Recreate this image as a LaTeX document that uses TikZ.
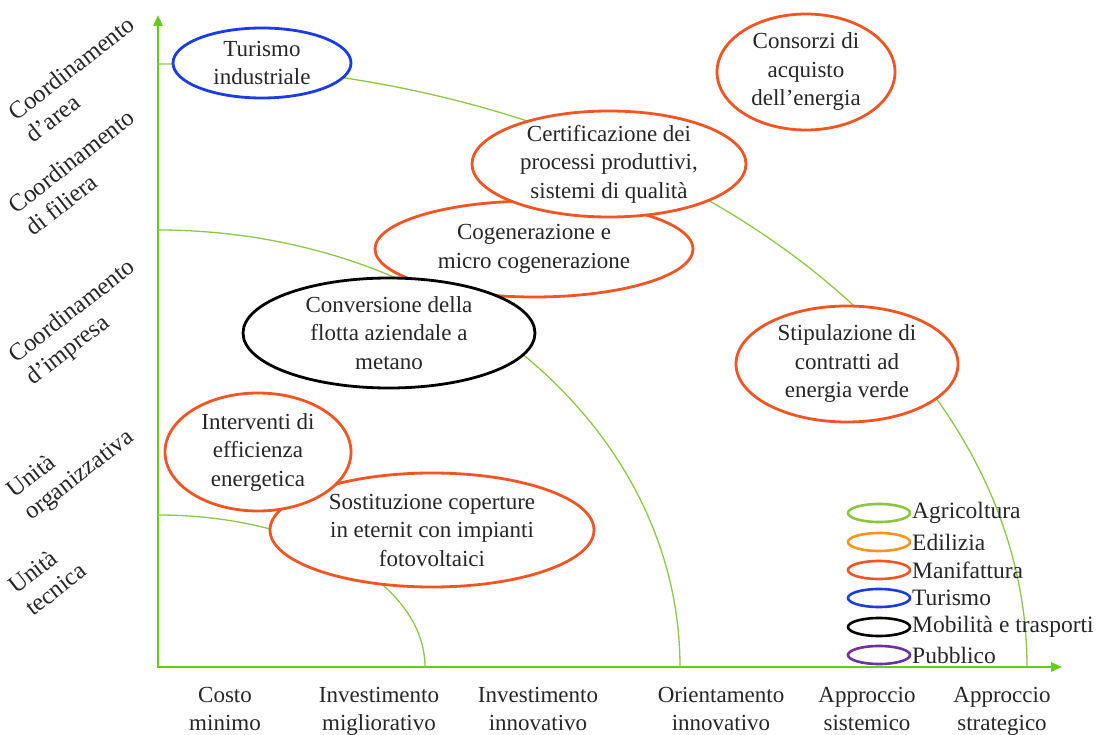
\documentclass[tikz,border=0pt]{standalone}
\usepackage{fontspec}
\setmainfont{Liberation Serif}
\usetikzlibrary{arrows.meta}

\definecolor{agri}{RGB}{140,198,63}
\definecolor{edil}{RGB}{247,148,30}
\definecolor{manif}{RGB}{242,85,35}
\definecolor{turis}{RGB}{25,60,230}
\definecolor{mobil}{RGB}{0,0,0}
\definecolor{pubbl}{RGB}{112,48,160}
\definecolor{axisgreen}{RGB}{102,204,20}
\definecolor{arcgreen}{RGB}{140,200,70}

\tikzset{
  axisline/.style={draw=axisgreen, line width=2.6pt,
    {Triangle[length=11pt,width=9pt]}-{Triangle[length=11pt,width=9pt]}},
  levelarc/.style={draw=arcgreen, line width=1.3pt},
  bubbleline/.style={fill=white, line width=2.8pt},
  bubbletext/.style={align=center, inner sep=0pt, text=black!85,
    font=\fontsize{23}{28.5}\selectfont},
  axislabel/.style={inner sep=0pt, text=black!85,
    font=\fontsize{23}{28}\selectfont},
  levellabel/.style={inner sep=0pt, text=black!85, rotate=38, anchor=base west,
    font=\fontsize{24.5}{28}\selectfont},
  keyshape/.style={line width=2.6pt},
  keytext/.style={anchor=west, inner sep=0pt, text=black!85,
    font=\fontsize{23.5}{28}\selectfont}
}

% name, x, y, x radius, y radius, colour, text
\newcommand{\bubble}[7]{%
  \filldraw[bubbleline, draw=#6] (#2,#3) ellipse [x radius=#4, y radius=#5];
  \node[bubbletext] (#1) at (#2,#3) {#7};}

% name, row y, colour, text
\newcommand{\keyentry}[4]{%
  \draw[keyshape, draw=#3] (879,#2) ellipse [x radius=31, y radius=9];
  \node[keytext] (#1) at (912,#2) {#4};}

\begin{document}
\begin{tikzpicture}[x=1pt, y=-1pt]
\useasboundingbox (0,0) rectangle (1105,735);

% axes
\coordinate (O) at (158,667);
\coordinate (ytop) at (158,15);
\coordinate (xend) at (1062,667);
\draw[axisline] (ytop) -- (O) -- (xend);

% level curves (quarter ellipses around the origin)
\draw[levelarc] (158,515) arc [start angle=-90, end angle=0, x radius=267, y radius=152];
\draw[levelarc] (158,230) arc [start angle=-90, end angle=0, x radius=522, y radius=437];
\draw[levelarc] (158,64) arc [start angle=-90, end angle=0, x radius=869, y radius=603];

% vertical axis labels
\node[levellabel] (ya) at (16,122)
  {\begin{tabular}[t]{@{}l@{}}Coordinamento\\d'area\end{tabular}};
\node[levellabel] (yb) at (16,215)
  {\begin{tabular}[t]{@{}l@{}}Coordinamento\\di filiera\end{tabular}};
\node[levellabel] (yc) at (16,364)
  {\begin{tabular}[t]{@{}l@{}}Coordinamento\\d'impresa\end{tabular}};
\node[levellabel] (yd) at (14,499)
  {\begin{tabular}[t]{@{}l@{}}Unità\\organizzativa\end{tabular}};
\node[levellabel] (ye) at (16,595)
  {\begin{tabular}[t]{@{}l@{}}Unità\\tecnica\end{tabular}};

% horizontal axis labels
\node[axislabel, anchor=base] (xa) at (225,702)
  {\begin{tabular}[t]{@{}c@{}}Costo\\minimo\end{tabular}};
\node[axislabel, anchor=base] (xb) at (379,702)
  {\begin{tabular}[t]{@{}c@{}}Investimento\\migliorativo\end{tabular}};
\node[axislabel, anchor=base] (xc) at (538,702)
  {\begin{tabular}[t]{@{}c@{}}Investimento\\innovativo\end{tabular}};
\node[axislabel, anchor=base] (xd) at (721,702)
  {\begin{tabular}[t]{@{}c@{}}Orientamento\\innovativo\end{tabular}};
\node[axislabel, anchor=base] (xe) at (867,702)
  {\begin{tabular}[t]{@{}c@{}}Approccio\\sistemico\end{tabular}};
\node[axislabel, anchor=base] (xf) at (1002,702)
  {\begin{tabular}[t]{@{}c@{}}Approccio\\strategico\end{tabular}};

% initiatives
\bubble{turismo}{262}{63}{89}{35}{turis}{Turismo\\industriale}
\bubble{consorzi}{806}{72}{89}{58}{manif}{Consorzi di\\acquisto\\dell'energia}
\bubble{cogen}{534}{249}{159}{48}{manif}{Cogenerazione e\\micro cogenerazione}
\bubble{certif}{609}{164}{137}{53}{manif}{Certificazione dei\\processi produttivi,\\sistemi di qualità}
\bubble{flotta}{389}{333}{146}{55}{mobil}{Conversione della\\flotta aziendale a\\metano}
\bubble{stipula}{847}{364}{111}{58}{manif}{Stipulazione di\\contratti ad\\energia verde}
\bubble{eternit}{432}{530}{162}{57}{manif}{Sostituzione coperture\\in eternit con impianti\\fotovoltaici}
\bubble{efficienza}{258}{452}{93}{59}{manif}{Interventi di\\efficienza\\energetica}

% legend
\keyentry{kagri}{513}{agri}{Agricoltura}
\keyentry{kedil}{542}{edil}{Edilizia}
\keyentry{kmanif}{570}{manif}{Manifattura}
\keyentry{kturis}{598}{turis}{Turismo}
\keyentry{kmobil}{627}{mobil}{Mobilità e trasporti}
\keyentry{kpubbl}{655}{pubbl}{Pubblico}
\end{tikzpicture}
\end{document}
